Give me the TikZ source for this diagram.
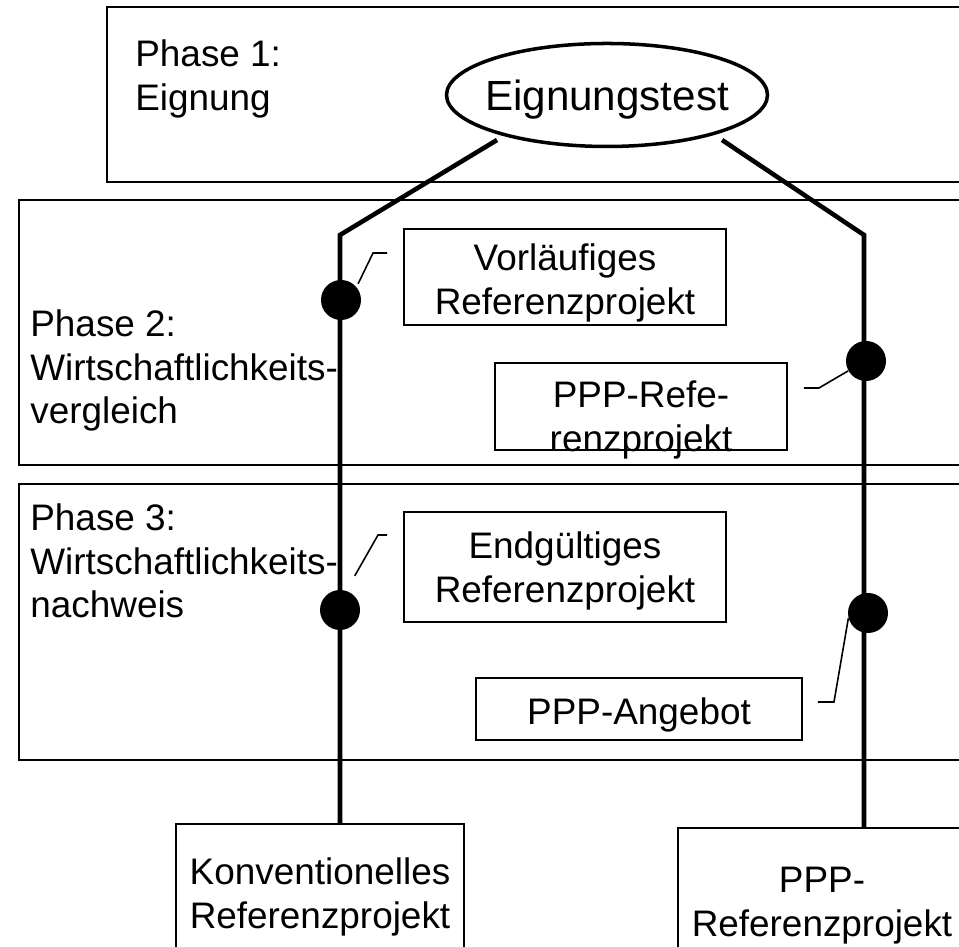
\documentclass[tikz,border=0pt]{standalone}
\usepackage{fontspec}
\setmainfont{Liberation Sans}
\usetikzlibrary{positioning, shapes.geometric}
\tikzset{%
    phase/.style={line width=1pt},
    refbox/.style={draw, line width=1.1pt, align=center, inner sep=0pt},
    phasetext/.style={anchor=north west, align=left, inner sep=0pt},
    station/.style={circle, fill=black, minimum size=0.8cm, inner sep=0pt},
    link/.style={line width=2.6pt},
    callout/.style={line width=0.9pt}
}
\newcommand{\boxfont}{\fontsize{21}{25}\selectfont}
\newcommand{\topgap}[1]{\rule{0pt}{#1}}

\begin{document}
\begin{tikzpicture}[font=\boxfont]
    \useasboundingbox (0, 0) rectangle (19.18, 18.92);
    \clip (0, 0) rectangle (19.18, 18.92);

    % Phases
    \draw[phase] (2.14, 15.28) rectangle (19.5, 18.78);
    \draw[phase] (0.38, 9.62) rectangle (19.5, 14.92);
    \draw[phase] (0.38, 3.72) rectangle (19.5, 9.24);
    \node[phasetext] (p1) at (2.7, 18.14) {Phase 1:\\Eignung};
    \node[phasetext] (p2) at (0.6, 12.74) {Phase 2:\\Wirtschaftlichkeits-\\vergleich};
    \node[phasetext] (p3) at (0.6, 8.86) {Phase 3:\\Wirtschaftlichkeits-\\nachweis};

    % Eignungstest
    \node[ellipse, draw, line width=2pt, minimum width=6.42cm, minimum height=2.06cm,
          inner xsep=-0.2cm, inner ysep=0pt, text depth=0pt, font=\fontsize{24}{28}\selectfont]
        (test) at (12.14, 17.02) {Eignungstest};

    % End boxes
    \coordinate (kL) at (6.8, 14.22);
    \coordinate (kR) at (17.28, 14.22);
    \node[refbox, anchor=north, minimum width=5.76cm, minimum height=3cm] (konv) at (6.4, 2.46) {};
    \node[refbox, anchor=north, minimum width=5.76cm, minimum height=3cm] (ppp) at (16.44, 2.38) {};
    \node[align=center, inner sep=0pt, below=0.68cm of konv.north] (konvtext) {Konventionelles\\Referenzprojekt};
    \node[align=center, inner sep=0pt, below=0.8cm of ppp.north] (ppptext) {PPP-\\Referenzprojekt};

    % Links
    \draw[link] ([xshift=-2.2cm, yshift=-0.9cm]test.center) -- (kL) -- (kL |- konv.north);
    \draw[link] ([xshift=2.3cm, yshift=-0.9cm]test.center) -- (kR) -- (kR |- ppp.north);

    % Stations
    \node[station] (sA) at (6.82, 12.92) {};
    \node[station] (sB) at (17.32, 11.7) {};
    \node[station] (sC) at (6.8, 6.72) {};
    \node[station] (sD) at (17.36, 6.66) {};

    % Reference boxes
    \node[refbox, minimum width=6.44cm, minimum height=1.92cm] (vorl) at (11.3, 13.38)
        {\topgap{0.76cm}Vorläufiges\\Referenzprojekt};
    \node[refbox, minimum width=5.84cm, minimum height=1.74cm] (pppref) at (12.82, 10.79) {};
    \node[align=center, inner sep=0pt] (pppreftext) at (12.82, 10.52) {PPP-Refe-\\renzprojekt};
    \node[refbox, minimum width=6.44cm, minimum height=2.2cm] (endg) at (11.3, 7.58)
        {\topgap{0.7cm}Endgültiges\\Referenzprojekt};
    \node[refbox, minimum width=6.52cm, minimum height=1.24cm] (angebot) at (12.78, 4.74)
        {\topgap{0.78cm}PPP-Angebot};

    % Callouts
    \draw[callout, shorten <=2pt] (sA.40) -- ([xshift=-0.6cm, yshift=0.48cm]vorl.west)
        -- ([xshift=-0.32cm, yshift=0.48cm]vorl.west);
    \draw[callout] (sB.209) -- ([xshift=0.62cm, yshift=0.37cm]pppref.east)
        -- ([xshift=0.32cm, yshift=0.37cm]pppref.east);
    \draw[callout, shorten <=0.34cm] (sC.72) -- ([xshift=-0.5cm, yshift=0.64cm]endg.west)
        -- ([xshift=-0.32cm, yshift=0.64cm]endg.west);
    \draw[callout] (sD.195) -- ([xshift=0.62cm, yshift=0.14cm]angebot.east)
        -- ([xshift=0.3cm, yshift=0.14cm]angebot.east);

\end{tikzpicture}
\end{document}
